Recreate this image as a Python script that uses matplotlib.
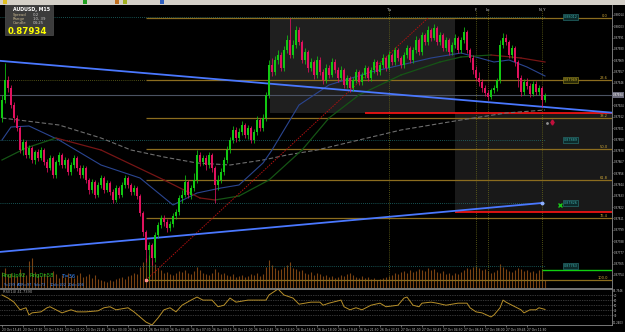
import numpy as np
import matplotlib
matplotlib.use('Agg')
import matplotlib.pyplot as plt
from matplotlib.patches import Rectangle

# ---------------- data (prices in 1e-5 units, AUDUSD M15) ----------------
opens = [87911, 87929, 87949, 87941, 87924, 87911, 87901, 87879, 87887, 87874,
         87881, 87869, 87877, 87871, 87879, 87867, 87861, 87871, 87854, 87867,
         87874, 87864, 87869, 87857, 87864, 87871, 87861, 87854, 87861, 87849,
         87839, 87847, 87834, 87844, 87851, 87839, 87846, 87837, 87829, 87841,
         87834, 87844, 87851, 87844, 87837, 87841, 87833, 87816, 87797, 87779,
         87784, 87771, 87794, 87804, 87811, 87807, 87801, 87805, 87813, 87817,
         87831, 87834, 87847, 87834, 87841, 87849, 87874, 87867, 87871, 87864,
         87874, 87861, 87844, 87849, 87857, 87869, 87879, 87889, 87899, 87891,
         87897, 87904, 87894, 87901, 87889, 87897, 87909, 87901, 87911, 87934,
         87964, 87957, 87969, 87974, 87961, 87979, 87989, 87974, 87984, 87999,
         87987, 87969, 87977, 87961, 87967, 87954, 87969, 87957, 87949, 87961,
         87954, 87967, 87959, 87951, 87959, 87944, 87951, 87941, 87949, 87957,
         87947, 87954, 87961, 87951, 87959, 87967, 87957, 87964, 87971, 87961,
         87974, 87967, 87979, 87971, 87964, 87974, 87981, 87969, 87979, 87989,
         87977, 87994, 87987, 87999, 87991, 88001, 87987, 87994, 87981, 87989,
         87977, 87984, 87991, 87979, 87989, 87997, 87979, 87971, 87959, 87951,
         87947, 87941, 87936, 87932, 87939, 87941, 87949, 87984, 87991, 87987,
         87974, 87981, 87967, 87951, 87937, 87947, 87943, 87935, 87945, 87937,
         87941, 87929]
closes = [87929, 87949, 87941, 87924, 87911, 87901, 87879, 87887, 87874, 87881,
          87869, 87877, 87871, 87879, 87867, 87861, 87871, 87854, 87867, 87874,
          87864, 87869, 87857, 87864, 87871, 87861, 87854, 87861, 87849, 87839,
          87847, 87834, 87844, 87851, 87839, 87846, 87837, 87829, 87841, 87834,
          87844, 87851, 87844, 87837, 87841, 87833, 87816, 87797, 87779, 87784,
          87771, 87794, 87804, 87811, 87807, 87801, 87805, 87813, 87817, 87831,
          87834, 87847, 87834, 87841, 87849, 87874, 87867, 87871, 87864, 87874,
          87861, 87844, 87849, 87857, 87869, 87879, 87889, 87899, 87891, 87897,
          87904, 87894, 87901, 87889, 87897, 87909, 87901, 87911, 87934, 87964,
          87957, 87969, 87974, 87961, 87979, 87989, 87974, 87984, 87999, 87987,
          87969, 87977, 87961, 87967, 87954, 87969, 87957, 87949, 87961, 87954,
          87967, 87959, 87951, 87959, 87944, 87951, 87941, 87949, 87957, 87947,
          87954, 87961, 87951, 87959, 87967, 87957, 87964, 87971, 87961, 87974,
          87967, 87979, 87971, 87964, 87974, 87981, 87969, 87979, 87989, 87977,
          87994, 87987, 87999, 87991, 88001, 87987, 87994, 87981, 87989, 87977,
          87984, 87991, 87979, 87989, 87997, 87979, 87971, 87959, 87951, 87947,
          87941, 87936, 87932, 87939, 87941, 87949, 87984, 87991, 87987, 87974,
          87981, 87967, 87951, 87937, 87947, 87943, 87935, 87945, 87937, 87941,
          87929, 87934]
highs = [87934, 87966, 87953, 87944, 87927, 87914, 87903, 87890, 87889, 87884,
         87883, 87879, 87880, 87882, 87881, 87870, 87874, 87873, 87869, 87877,
         87876, 87872, 87871, 87867, 87874, 87873, 87864, 87864, 87863, 87851,
         87850, 87849, 87847, 87854, 87853, 87849, 87848, 87840, 87844, 87843,
         87847, 87854, 87853, 87846, 87844, 87843, 87835, 87818, 87799, 87787,
         87786, 87797, 87807, 87814, 87814, 87810, 87808, 87816, 87820, 87834,
         87839, 87854, 87849, 87844, 87856, 87879, 87877, 87874, 87874, 87877,
         87876, 87863, 87854, 87861, 87872, 87883, 87892, 87903, 87902, 87901,
         87908, 87906, 87904, 87903, 87900, 87913, 87911, 87915, 87937, 87969,
         87971, 87973, 87979, 87977, 87983, 87994, 88011, 87989, 88003, 88002,
         87989, 87981, 87979, 87971, 87969, 87973, 87972, 87960, 87965, 87964,
         87971, 87970, 87962, 87963, 87961, 87954, 87953, 87952, 87960, 87959,
         87957, 87964, 87963, 87962, 87970, 87969, 87967, 87975, 87973, 87978,
         87976, 87982, 87981, 87973, 87977, 87984, 87983, 87982, 87993, 87991,
         87997, 87996, 88003, 88001, 88005, 88003, 87997, 87996, 87992, 87991,
         87987, 87995, 87993, 87992, 88002, 87999, 87981, 87974, 87963, 87957,
         87950, 87944, 87939, 87941, 87944, 87951, 87989, 87996, 87995, 87989,
         87984, 87983, 87969, 87954, 87950, 87951, 87946, 87948, 87948, 87944,
         87943, 87936]
lows = [87907, 87926, 87937, 87921, 87907, 87898, 87876, 87874, 87871, 87871,
        87866, 87865, 87868, 87869, 87864, 87857, 87859, 87851, 87851, 87864,
        87861, 87861, 87854, 87854, 87861, 87858, 87851, 87851, 87846, 87835,
        87836, 87831, 87832, 87841, 87836, 87837, 87834, 87826, 87827, 87831,
        87832, 87841, 87841, 87834, 87834, 87830, 87813, 87793, 87767, 87749,
        87764, 87767, 87791, 87801, 87803, 87797, 87798, 87802, 87810, 87814,
        87826, 87832, 87831, 87830, 87838, 87846, 87863, 87864, 87859, 87861,
        87857, 87826, 87839, 87846, 87854, 87866, 87876, 87886, 87887, 87888,
        87894, 87891, 87890, 87886, 87886, 87894, 87898, 87898, 87908, 87931,
        87953, 87954, 87965, 87958, 87958, 87976, 87971, 87971, 87981, 87984,
        87966, 87965, 87957, 87958, 87950, 87951, 87954, 87945, 87946, 87951,
        87952, 87956, 87947, 87949, 87941, 87941, 87937, 87938, 87946, 87944,
        87944, 87951, 87948, 87948, 87956, 87954, 87954, 87961, 87958, 87959,
        87964, 87964, 87968, 87961, 87961, 87971, 87966, 87966, 87976, 87974,
        87974, 87984, 87984, 87988, 87989, 87984, 87984, 87978, 87978, 87974,
        87974, 87981, 87976, 87976, 87986, 87976, 87967, 87955, 87948, 87943,
        87937, 87933, 87929, 87930, 87936, 87938, 87946, 87981, 87984, 87971,
        87971, 87963, 87942, 87933, 87934, 87940, 87932, 87933, 87934, 87934,
        87922, 87927]
volumes = [320, 400, 280, 300, 260, 240, 380, 300, 260, 540,
           600, 320, 280, 240, 300, 260, 220, 340, 280, 200,
           260, 220, 300, 240, 200, 260, 300, 220, 240, 280,
           200, 260, 180, 160, 140, 120, 160, 140, 180, 200,
           220, 180, 240, 260, 300, 280, 420, 520, 600, 660,
           560, 480, 400, 360, 300, 320, 280, 260, 300, 340,
           320, 360, 300, 280, 340, 420, 360, 300, 280, 260,
           300, 380, 320, 280, 300, 260, 240, 280, 220, 240,
           260, 220, 240, 280, 260, 300, 240, 280, 420, 560,
           460, 400, 360, 380, 420, 460, 520, 400, 380, 340,
           360, 300, 280, 320, 260, 300, 280, 240, 260, 220,
           240, 200, 220, 260, 240, 280, 300, 260, 220, 200,
           240, 200, 220, 180, 200, 160, 180, 200, 220, 240,
           260, 300, 280, 320, 340, 300, 360, 320, 340, 380,
           360, 340, 400, 360, 380, 320, 300, 340, 280, 300,
           260, 300, 280, 320, 360, 400, 380, 420, 440, 400,
           360, 380, 340, 300, 320, 360, 480, 420, 380, 340,
           320, 360, 400, 380, 340, 360, 320, 340, 300, 360,
           380, 160]

# moving averages (knots: bar index, price)
fast_idx = [0, 3, 9, 19, 33, 46, 57, 65, 73, 79, 87, 90, 99, 109, 123, 143, 153, 158, 164, 169, 175, 181]
fast_val = [87889, 87902, 87903, 87889, 87864, 87851, 87824, 87836, 87841, 87844, 87866, 87879,
            87924, 87944, 87957, 87971, 87976, 87972, 87967, 87969, 87962, 87953]
med_idx = [0, 8, 18, 33, 54, 66, 71, 79, 89, 100, 109, 119, 133, 146, 153, 163, 173, 181]
med_val = [87869, 87881, 87891, 87879, 87849, 87831, 87829, 87833, 87849, 87879, 87911, 87934,
           87954, 87967, 87972, 87974, 87971, 87967]
slow_idx = [0, 19, 33, 43, 54, 65, 76, 87, 95, 105, 119, 133, 153, 168, 181]
slow_val = [87911, 87904, 87891, 87879, 87872, 87866, 87864, 87869, 87874, 87879, 87889, 87899,
            87909, 87916, 87919]

# RSI(14)
rsi_idx = [0, 2, 4, 6, 8, 9, 10, 13, 15, 16, 18, 20, 23, 25, 28, 32, 34, 36, 38, 42,
           44, 46, 48, 50, 52, 54, 56, 58, 60, 63, 65, 67, 70, 72, 74, 76, 78, 82, 85, 88,
           89, 92, 94, 97, 99, 103, 106, 107, 109, 113, 114, 116, 118, 120, 123, 126, 128, 132, 134, 135,
           137, 139, 140, 143, 145, 148, 152, 155, 156, 158, 160, 163, 164, 166, 167, 168, 170, 173, 174, 176,
           178, 179, 181]
rsi_val = [70, 64, 56, 41, 45, 31, 35, 37, 45, 47, 41, 35, 41, 37, 37, 39, 45, 47, 41, 45,
           37, 27, 17, 11.3, 25, 41, 45, 37, 50, 60, 66, 60, 60, 47, 50, 64, 56, 60, 60, 60,
           70, 81.7, 70, 64, 52, 56, 56, 50, 54, 60, 47, 41, 45, 41, 50, 54, 47, 50, 64, 66,
           50, 47, 54, 56, 54, 50, 54, 54, 45, 37, 35, 27, 31, 45, 60, 56, 50, 41, 35, 41,
           41, 45, 41.739]
rsi_min, rsi_max = 11.2403, 81.7546

# drawn objects
bid = 87934
fib_hi, fib_lo, fib_start = 88011, 87749, 48
fib_ratios = [0.0, 23.6, 38.2, 50.0, 61.8, 76.4, 100.0]
red_levels = [87916, 87817]
red_start = [121, 151]
zone1 = (89.3, 151, 87916, 88011)
zone2 = (151, None, 87817, 87916)
teal_levels = [88012, 87889, 87826, 87763]
box_levels = [88012, 87949, 87889, 87826, 87763]
box_texts = ["0.88012", "0.87949", "0.87889", "0.87826", "0.87763"]
box_kinds = ["t", "y", "t", "t", "t"]
green_level = 87759
tl1 = ((0, 87968), (181, 87922))
tl2 = ((-1, 87777), (180, 87826))
red_diag = ((48, 87749), (142, 88011))
sess_idx = [129, 158, 162, 180]
sess_lab = ["Tu", "F", "Lo", "N Y"]
tick_idx = list(range(0, 182, 7))
tick_labels = ["23 Oct 15:45", "23 Oct 17:30", "23 Oct 19:15", "23 Oct 21:00", "23 Oct 22:45",
               "26 Oct 00:30", "26 Oct 02:15", "26 Oct 04:00", "26 Oct 05:45", "26 Oct 07:30",
               "26 Oct 09:15", "26 Oct 11:00", "26 Oct 12:45", "26 Oct 14:30", "26 Oct 16:15",
               "26 Oct 18:00", "26 Oct 19:45", "26 Oct 21:30", "26 Oct 23:15", "27 Oct 01:00",
               "27 Oct 02:45", "27 Oct 04:30", "27 Oct 06:15", "27 Oct 08:00", "27 Oct 09:45",
               "27 Oct 11:30"]

# ---------------- figure ----------------
W, H = 625, 332
fig = plt.figure(figsize=(W / 100, H / 100), dpi=100, facecolor='black')


def px_axes(x0, y0, x1, y1):
    return fig.add_axes([x0 / W, 1 - y1 / H, (x1 - x0) / W, (y1 - y0) / H])


def ftext(x, y, s, **kw):
    fig.text(x / W, 1 - y / H, s, zorder=12, **kw)


S = 1e-5
XL = (-2 / 3, 610 / 3)
YL = (87741 * S, 88024 * S)
AXFS = 1.9

vol_ax = px_axes(0, 5, 612, 288)
ax = px_axes(0, 5, 612, 288)
rsi_ax = px_axes(0, 289, 612, 325)
vol_ax.set_zorder(0)
ax.set_zorder(1)
ax.patch.set_visible(False)
vol_ax.set_facecolor('black')
rsi_ax.set_facecolor('black')

o = np.array(opens) * S
c = np.array(closes) * S
h = np.array(highs) * S
l = np.array(lows) * S
idx = np.arange(len(closes))

# volume
vol_ax.vlines(idx, 0, volumes, colors='#7a4212', lw=0.8)
vol_ax.set_xlim(*XL)
vol_ax.set_ylim(0, max(volumes) * 283 / 33)
vol_ax.axis('off')

ax.set_xlim(*XL)
ax.set_ylim(*YL)

# zones
for (x0, x1, p0, p1), fc in ((zone1, '#1f1f1f'), (zone2, '#191919')):
    x1 = XL[1] if x1 is None else x1
    ax.add_patch(Rectangle((x0, p0 * S), x1 - x0, (p1 - p0) * S, facecolor=fc, edgecolor='none', zorder=0.5))

# level lines
ax.axhline(bid * S, color='#4a5262', lw=0.8, zorder=1)
for p in teal_levels:
    ax.hlines(p * S, XL[0], 181, colors='#1f7070', lw=0.6, linestyles=(0, (1, 1.5)), zorder=1)
fib_prices = [fib_hi - (fib_hi - fib_lo) * r / 100 for r in fib_ratios]
ax.hlines(fib_prices[1] * S, XL[0], fib_start, colors='#6a6a1c', lw=0.6, linestyles=(0, (1, 1.5)), zorder=1)
for r, p in zip(fib_ratios, fib_prices):
    ax.hlines(p * S, fib_start, XL[1], colors='#8c6d1f', lw=0.9, zorder=1.2)
    ax.text(0.993, p * S, f'{r:.1f}', transform=ax.get_yaxis_transform(), ha='right', va='bottom',
            fontsize=2.6, color='#d0a838', zorder=6)
for p, x0 in zip(red_levels, red_start):
    ax.hlines(p * S, x0, XL[1], colors='#ff1414', lw=1.2, zorder=1.5)
ax.hlines(green_level * S, 180, XL[1], colors='#10d010', lw=1.0, zorder=1.5)

# session lines
for xi, lab in zip(sess_idx, sess_lab):
    ax.axvline(xi, ymin=0.02, ymax=0.985, color='#6b6b1a', lw=0.6, ls=(0, (1, 1.5)), zorder=1)
    ax.text(xi, 0.99, lab, transform=ax.get_xaxis_transform(), ha='center', va='top',
            fontsize=2.8, color='#c8c8c8', zorder=6)

# moving averages
ax.plot(slow_idx, np.array(slow_val) * S, color='#6e6e6e', lw=0.8, ls=(0, (4, 2)), zorder=2)
ax.plot(fast_idx, np.array(fast_val) * S, color='#2a4590', lw=0.8, zorder=2)
mv = np.array(med_val) * S
for i in range(len(med_idx) - 1):
    colr = '#155515' if mv[i + 1] >= mv[i] else '#761515'
    ax.plot(med_idx[i:i + 2], mv[i:i + 2], color=colr, lw=0.9, zorder=2)

# trendlines
ax.axline((tl1[0][0], tl1[0][1] * S), (tl1[1][0], tl1[1][1] * S), color='#4a78ff', lw=1.3, zorder=2.5)
ax.plot([tl2[0][0], tl2[1][0]], [tl2[0][1] * S, tl2[1][1] * S], color='#4a78ff', lw=1.3, zorder=2.5)
ax.plot(tl2[1][0], tl2[1][1] * S, 'o', ms=1.8, color='#8fb0ff', zorder=2.6)
ax.plot([red_diag[0][0], red_diag[1][0]], [red_diag[0][1] * S, red_diag[1][1] * S],
        color='#b01010', lw=0.7, ls=(0, (1.5, 1.2)), zorder=2.4)
ax.plot(red_diag[0][0], red_diag[0][1] * S, 's', ms=1.5, color='#ff9090', zorder=2.6)

# candles
up = c >= o
col = np.where(up, '#12c812', '#e0125e')
ax.vlines(idx, l, h, colors=col, lw=0.55, zorder=4)
body = np.maximum(np.abs(c - o), 0.5 * S)
ax.bar(idx, body, bottom=np.minimum(o, c), width=0.6, color=col, linewidth=0, zorder=5)

# markers in the right margin
ax.plot(183.3, 87907 * S, 'd', ms=2.6, color='#c0103c', zorder=6)
ax.plot(181.6, 87906 * S, 'o', ms=1.0, color='#909090', zorder=6)
ax.plot(186, 87824 * S, 'x', ms=3, mew=1.0, color='#18c818', zorder=6)
for p, t, k in zip(box_levels, box_texts, box_kinds):
    if k == 'y':
        fc, ec, tc = '#2a2a08', '#a09020', '#d8c030'
    else:
        fc, ec, tc = '#0c2a2a', '#2a8080', '#40b0b0'
    ax.text(189.5, p * S, t, ha='center', va='center', fontsize=2.4, color=tc, zorder=7,
            bbox=dict(boxstyle='square,pad=0.25', fc=fc, ec=ec, lw=0.4))

# price axis
for sp in ('top', 'left'):
    ax.spines[sp].set_visible(False)
for sp in ('right', 'bottom'):
    ax.spines[sp].set_color('#8a8a8a')
    ax.spines[sp].set_linewidth(0.6)
ax.set_xticks([])
ax.yaxis.tick_right()
yt_all = np.arange(88014, 87745, -11.3)
yt = yt_all[np.abs(yt_all - bid) > 5] * S
ax.set_yticks(yt)
ax.set_yticklabels([f'{v:.5f}' for v in yt])
ax.tick_params(axis='y', colors='#8a8a8a', labelcolor='#c8c8c8', labelsize=AXFS, length=1.0, width=0.5, pad=0.3)
ax.text(1.0015, bid * S, '0.87934', transform=ax.get_yaxis_transform(), ha='left', va='center',
        fontsize=AXFS, color='white', zorder=8, clip_on=False,
        bbox=dict(boxstyle='square,pad=0.2', fc='#6a6a7a', ec='none'))

# RSI pane
rsi_ax.set_xlim(*XL)
rsi_ax.set_ylim(rsi_min, rsi_max)
for lv in (70, 60, 50, 40, 30):
    rsi_ax.axhline(lv, color='#6a6a6a', lw=0.5, ls=(0, (1, 1.5)))
rsi_ax.plot(rsi_idx, rsi_val, color='#b8902a', lw=0.7)
rsi_ax.spines['left'].set_visible(False)
for sp in ('right', 'bottom', 'top'):
    rsi_ax.spines[sp].set_color('#8a8a8a')
    rsi_ax.spines[sp].set_linewidth(0.6)
rsi_ax.yaxis.tick_right()
rsi_ax.set_yticks([30, 40, 50, 60, 70])
rsi_ax.set_yticklabels(['30', '40', '50', '60', '70'])
rsi_ax.tick_params(axis='y', colors='#8a8a8a', labelcolor='#c8c8c8', labelsize=AXFS, length=1.0, width=0.5, pad=0.3)
rsi_ax.text(1.0015, rsi_max, f'{rsi_max:.4f}', transform=rsi_ax.get_yaxis_transform(), ha='left', va='top',
            fontsize=AXFS, color='#c8c8c8', clip_on=False)
rsi_ax.text(1.0015, rsi_min, f'{rsi_min:.4f}', transform=rsi_ax.get_yaxis_transform(), ha='left', va='bottom',
            fontsize=AXFS, color='#c8c8c8', clip_on=False)
rsi_ax.text(0.005, 0.97, 'RSI(14) 41.7390', transform=rsi_ax.transAxes, ha='left', va='top',
            fontsize=2.6, color='#a8a8a8')
rsi_ax.set_xticks(tick_idx)
rsi_ax.set_xticklabels(tick_labels)
for lab in rsi_ax.get_xticklabels():
    lab.set_ha('left')
rsi_ax.tick_params(axis='x', colors='#8a8a8a', labelcolor='#c8c8c8', labelsize=2.2, length=1.5, width=0.5, pad=0.8)

# toolbar strip + info panel
fig.patches.append(Rectangle((0, 1 - 4.5 / H), 1, 4.5 / H, transform=fig.transFigure,
                             fc='#d4d0c8', ec='none', zorder=10))
for x, cc in ((3, '#e0c020'), (83, '#20a020'), (115, '#c07020'), (123, '#a0b020'), (160, '#3060c0')):
    fig.patches.append(Rectangle((x / W, 1 - 4 / H), 4 / W, 3.5 / H, transform=fig.transFigure,
                                 fc=cc, ec='none', zorder=11))
fig.patches.append(Rectangle((5 / W, 1 - 35 / H), 48 / W, 30 / H, transform=fig.transFigure,
                             fc='#3c3c3c', ec='#5a5a5a', lw=0.4, zorder=10))
ftext(13, 10, 'AUDUSD, M15', fontsize=3.4, color='white', fontweight='bold', va='center')
for yy, k, v in ((15, 'Spread', '0.2'), (19, 'Range', '10, 39'), (23, 'Candle', '04:25')):
    ftext(13, yy, k, fontsize=2.8, color='#c8b890', va='center')
    ftext(33, yy, v, fontsize=2.8, color='#c8c8c8', va='center')
ftext(8, 31, '0.87934', fontsize=6.2, color='#ffff00', fontweight='bold', va='center')

# range / ADR info text
ftext(2, 276, 'RngUp92', fontsize=3.8, color='#22cc22', va='center')
ftext(30, 276, 'RngDn58', fontsize=3.8, color='#22cc22', va='center')
ftext(62, 276, 'T=36', fontsize=3.8, color='#3a8cff', va='center')
for x, s in ((3, 'Y=199'), (17, 'ADR=97'), (34, '5d=73'), (50, '10d=102'), (68, '20d=106')):
    ftext(x, 285, s, fontsize=2.6, color='#3a8cff', va='center')

fig.savefig('out.png', dpi=100, facecolor='black')
